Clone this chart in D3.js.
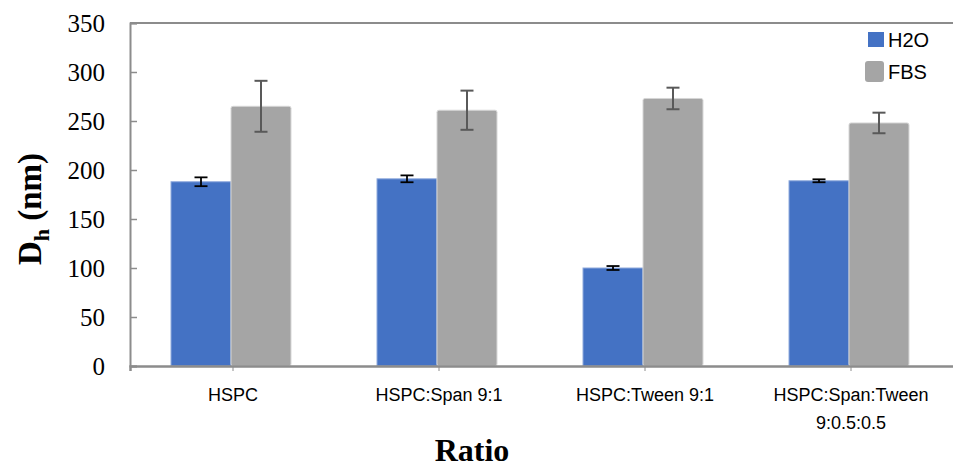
<!DOCTYPE html>
<html>
<head>
<meta charset="utf-8">
<script src="https://cdn.jsdelivr.net/npm/d3@7"></script>
<style>
  html, body { margin: 0; padding: 0; background: #fff; }
  svg { display: block; }
</style>
</head>
<body>
<svg id="chart" width="953" height="468"></svg>
<script>
// Hydrodynamic diameter by formulation ratio, in water and in FBS
const categories = [["HSPC"], ["HSPC:Span 9:1"], ["HSPC:Tween 9:1"], ["HSPC:Span:Tween", "9:0.5:0.5"]];
const seriesNames = ["H2O", "FBS"];
const h2oValues = [188, 191, 100, 189];
const h2oErrors = [4.5, 3.5, 2, 1.5];
const fbsValues = [265, 261, 273, 248];
const fbsErrors = [26, 20, 11, 10.5];
const yTicks = [0, 50, 100, 150, 200, 250, 300, 350];

const colors = { H2O: "#4472C4", FBS: "#A5A5A5" };
const strokes = { H2O: "#8FAADC", FBS: "#D6D6D6" };
const errColors = { H2O: "#000000", FBS: "#595959" };

const svg = d3.select("#chart");
const plotLeft = 130, plotRight = 954, plotTop = 23, plotBottom = 366;

const catKeys = categories.map(c => c.join(" "));
const x = d3.scaleBand().domain(catKeys).range([plotLeft, plotRight]).paddingInner(0).paddingOuter(0);
const xSub = d3.scaleBand().domain(seriesNames).range([0, x.bandwidth()]).paddingInner(0).paddingOuter(0.717);
const y = d3.scaleLinear().domain([0, 350]).range([plotBottom, plotTop]);

const rows = catKeys.map((k, i) => ({
  key: k,
  bars: [
    { s: "H2O", v: h2oValues[i], e: h2oErrors[i] },
    { s: "FBS", v: fbsValues[i], e: fbsErrors[i] }
  ]
}));

// Bars
const groups = svg.append("g").selectAll("g").data(rows).join("g")
  .attr("transform", d => `translate(${x(d.key) - 2},0)`);

groups.selectAll("rect").data(d => d.bars).join("rect")
  .attr("x", d => xSub(d.s))
  .attr("y", d => y(d.v))
  .attr("width", xSub.bandwidth())
  .attr("height", d => y(0) - y(d.v))
  .attr("rx", d => d.s === "FBS" ? 2 : 0)
  .attr("fill", d => colors[d.s])
  .attr("stroke", d => strokes[d.s])
  .attr("stroke-width", 1);

// Error bars
const capHalf = 6.5;
const eb = groups.selectAll("g.err").data(d => d.bars).join("g").attr("class", "err")
  .attr("stroke", d => errColors[d.s])
  .attr("stroke-width", d => d.s === "FBS" ? 2 : 1.8);
eb.append("line")
  .attr("x1", d => xSub(d.s) + xSub.bandwidth() / 2)
  .attr("x2", d => xSub(d.s) + xSub.bandwidth() / 2)
  .attr("y1", d => y(d.v + d.e)).attr("y2", d => y(d.v - d.e));
eb.append("line")
  .attr("x1", d => xSub(d.s) + xSub.bandwidth() / 2 - capHalf)
  .attr("x2", d => xSub(d.s) + xSub.bandwidth() / 2 + capHalf)
  .attr("y1", d => y(d.v + d.e)).attr("y2", d => y(d.v + d.e));
eb.append("line")
  .attr("x1", d => xSub(d.s) + xSub.bandwidth() / 2 - capHalf)
  .attr("x2", d => xSub(d.s) + xSub.bandwidth() / 2 + capHalf)
  .attr("y1", d => y(d.v - d.e)).attr("y2", d => y(d.v - d.e));

// Frame: left, top and bottom lines
const axisColor = "#8C8C8C";
svg.append("line").attr("x1", plotLeft).attr("x2", plotRight).attr("y1", plotTop).attr("y2", plotTop)
  .attr("stroke", axisColor).attr("stroke-width", 2);

// Y axis with inward ticks
const yAxis = svg.append("g").attr("transform", `translate(${plotLeft},0)`)
  .call(d3.axisRight(y).tickValues(yTicks).tickSize(7).tickFormat(""));
yAxis.select(".domain").attr("stroke", axisColor).attr("stroke-width", 2);
yAxis.selectAll(".tick line").attr("stroke", axisColor).attr("stroke-width", 1.5);

svg.append("g").selectAll("text").data(yTicks).join("text")
  .attr("x", 105).attr("y", d => y(d)).attr("dy", "0.35em")
  .attr("text-anchor", "end")
  .attr("font-family", "'Liberation Serif', 'Times New Roman', serif")
  .attr("font-size", 25).attr("fill", "#000")
  .text(d => d);

// X axis with small outward ticks
const xAxis = svg.append("g").attr("transform", `translate(0,${plotBottom})`)
  .call(d3.axisBottom(x).tickSize(5).tickFormat(""));
xAxis.select(".domain").attr("stroke", axisColor).attr("stroke-width", 2.5);
xAxis.selectAll(".tick line").attr("stroke", axisColor).attr("stroke-width", 1);

const catLabels = svg.append("g").selectAll("text").data(categories).join("text")
  .attr("text-anchor", "middle")
  .attr("font-family", "'Liberation Sans', Arial, sans-serif")
  .attr("font-size", 18).attr("fill", "#000")
  .attr("transform", (d, i) => `translate(${x(catKeys[i]) + x.bandwidth() / 2},401)`);
catLabels.selectAll("tspan").data(d => d).join("tspan")
  .attr("x", 0).attr("y", (d, i) => i * 28).text(d => d);

// Axis titles
svg.append("text")
  .attr("x", (plotLeft + plotRight) / 2 - 70).attr("y", 461)
  .attr("text-anchor", "middle")
  .attr("font-family", "'Liberation Serif', 'Times New Roman', serif")
  .attr("font-weight", "bold").attr("font-size", 32).attr("fill", "#000")
  .text("Ratio");

const yTitle = svg.append("text")
  .attr("transform", "translate(41,209) rotate(-90)")
  .attr("text-anchor", "middle")
  .attr("font-family", "'Liberation Serif', 'Times New Roman', serif")
  .attr("font-weight", "bold").attr("font-size", 33).attr("fill", "#000");
yTitle.append("tspan").text("D");
yTitle.append("tspan").attr("font-size", 22).attr("dy", 8).text("h");
yTitle.append("tspan").attr("dy", -8).text(" (nm)");

// Legend
const legend = svg.append("g");
const legendItems = [
  { s: "H2O", x: 868, y: 32, w: 16, h: 15, rx: 0, ty: 40 },
  { s: "FBS", x: 865, y: 61, w: 19, h: 21, rx: 3, ty: 72 }
];
legend.selectAll("rect").data(legendItems).join("rect")
  .attr("x", d => d.x).attr("y", d => d.y).attr("width", d => d.w).attr("height", d => d.h)
  .attr("rx", d => d.rx).attr("fill", d => colors[d.s]);
legend.selectAll("text").data(legendItems).join("text")
  .attr("x", 888).attr("y", d => d.ty).attr("dy", "0.35em")
  .attr("font-family", "'Liberation Sans', Arial, sans-serif")
  .attr("font-size", 20).attr("fill", "#000")
  .text(d => d.s);
</script>
</body>
</html>
